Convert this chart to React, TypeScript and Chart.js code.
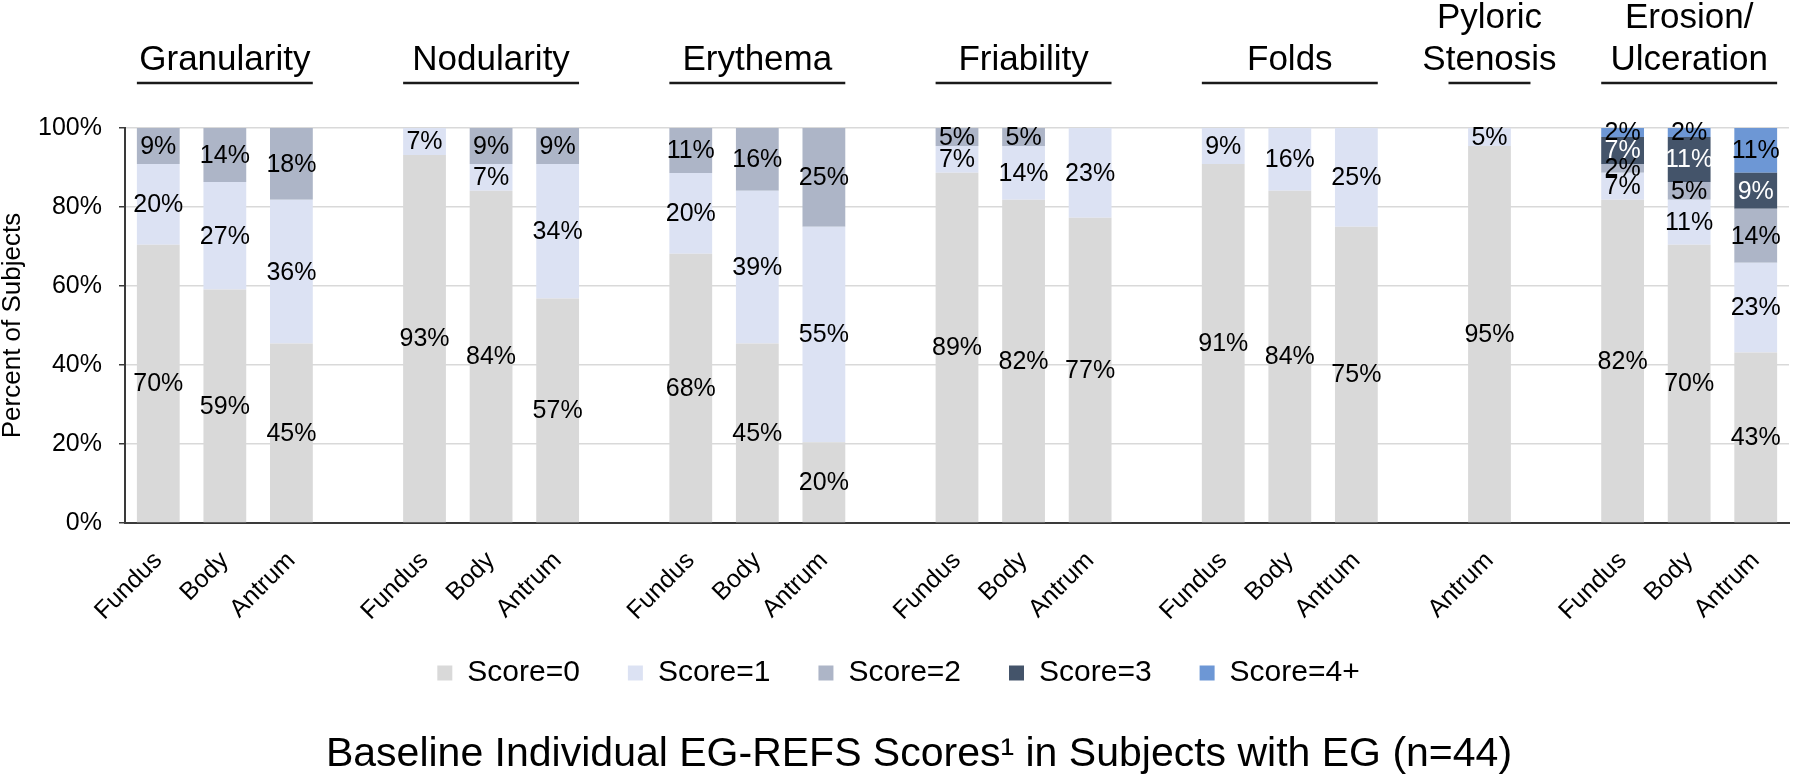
import React, { useEffect, useRef } from 'react';
import { Chart, registerables } from 'chart.js';

Chart.register(...registerables);

const FONT = '"Liberation Sans", Arial, Helvetica, sans-serif';

const categories = [
  'Fundus', 'Body', 'Antrum', '',
  'Fundus', 'Body', 'Antrum', '',
  'Fundus', 'Body', 'Antrum', '',
  'Fundus', 'Body', 'Antrum', '',
  'Fundus', 'Body', 'Antrum', '',
  'Antrum', '',
  'Fundus', 'Body', 'Antrum',
];

const groupHeaders = [
  ['Granularity'],
  ['Nodularity'],
  ['Erythema'],
  ['Friability'],
  ['Folds'],
  ['Pyloric', 'Stenosis'],
  ['Erosion/', 'Ulceration'],
];

const seriesNames = ['Score=0', 'Score=1', 'Score=2', 'Score=3', 'Score=4+'];
const seriesColors = ['#D9D9D9', '#DCE2F3', '#ADB5C7', '#44546A', '#6D97D5'];
const labelColors = ['#000000', '#000000', '#000000', '#FFFFFF', '#000000'];

const score0 = [70.45, 59.09, 45.45, null, 93.18, 84.09, 56.82, null, 68.18, 45.45, 20.45, null, 88.64, 81.82, 77.27, null, 90.91, 84.09, 75.0, null, 95.45, null, 81.82, 70.45, 43.18];
const score1 = [20.45, 27.27, 36.36, null, 6.82, 6.82, 34.09, null, 20.45, 38.64, 54.55, null, 6.82, 13.64, 22.73, null, 9.09, 15.91, 25.0, null, 4.55, null, 6.82, 11.36, 22.73];
const score2 = [9.09, 13.64, 18.18, null, null, 9.09, 9.09, null, 11.36, 15.91, 25.0, null, 4.55, 4.55, null, null, null, null, null, null, null, null, 2.27, 4.55, 13.64];
const score3 = [null, null, null, null, null, null, null, null, null, null, null, null, null, null, null, null, null, null, null, null, null, null, 6.82, 11.36, 9.09];
const score4 = [null, null, null, null, null, null, null, null, null, null, null, null, null, null, null, null, null, null, null, null, null, null, 2.27, 2.27, 11.36];

const seriesValues = [score0, score1, score2, score3, score4];

const yTickValues = [0, 20, 40, 60, 80, 100];
const yAxisTitle = 'Percent of Subjects';
const chartTitle = '\u2003Baseline Individual EG-REFS Scores\u00B9 in Subjects with EG (n=44)';

const dataLabelPlugin = {
  id: 'segLabels',
  afterDatasetsDraw(chart: any) {
    const ctx = chart.ctx;
    ctx.save();
    ctx.font = `25px ${FONT}`;
    ctx.textAlign = 'center';
    ctx.textBaseline = 'middle';
    chart.data.datasets.forEach((ds: any, i: number) => {
      const meta = chart.getDatasetMeta(i);
      meta.data.forEach((el: any, j: number) => {
        const v = ds.data[j];
        if (v === null || v === undefined) return;
        const p = el.getProps(['x', 'y', 'base'], true);
        ctx.fillStyle = labelColors[i];
        ctx.fillText(`${Math.round(v)}%`, p.x, (p.y + p.base) / 2 + 1);
      });
    });
    ctx.restore();
  },
};

const headerPlugin = {
  id: 'groupHeaders',
  afterDraw(chart: any) {
    const ctx = chart.ctx;
    const xs = chart.scales.x;
    const slot = xs.width / categories.length;
    const barHalf = (slot * 0.643) / 2;
    const runs: number[][] = [];
    let start = -1;
    categories.forEach((c, i) => {
      if (c !== '' && start < 0) start = i;
      if ((c === '' || i === categories.length - 1) && start >= 0) {
        const end = c === '' ? i - 1 : i;
        runs.push([start, end]);
        start = -1;
      }
    });
    ctx.save();
    ctx.font = `35px ${FONT}`;
    ctx.fillStyle = '#000';
    ctx.textAlign = 'center';
    ctx.textBaseline = 'alphabetic';
    runs.forEach((r, gi) => {
      const lines = groupHeaders[gi] || [];
      const x0 = xs.getPixelForValue(r[0]);
      const x1 = xs.getPixelForValue(r[1]);
      const cx = (x0 + x1) / 2;
      const baseY = 70;
      lines.forEach((t, li) => {
        const y = baseY - (lines.length - 1 - li) * 42;
        ctx.fillText(t, cx, y);
      });
      let half = (x1 - x0) / 2 + barHalf;
      if (half < 41) half = 41;
      ctx.strokeStyle = '#1a1a1a';
      ctx.lineWidth = 2.5;
      ctx.beginPath();
      ctx.moveTo(cx - half, 83);
      ctx.lineTo(cx + half, 83);
      ctx.stroke();
    });
    ctx.restore();
  },
};

export default function App() {
  const ref = useRef<HTMLCanvasElement>(null);

  useEffect(() => {
    if (!ref.current) return;
    Chart.defaults.font.family = FONT;
    const chart = new Chart(ref.current, {
      type: 'bar',
      data: {
        labels: categories,
        datasets: seriesNames.map((name, i) => ({
          label: name,
          data: seriesValues[i],
          backgroundColor: seriesColors[i],
          borderWidth: 0,
          barPercentage: 0.643,
          categoryPercentage: 1.0,
          stack: 's',
        })),
      },
      options: {
        responsive: false,
        animation: false,
        events: [],
        layout: { padding: { top: 128, right: 3, bottom: 0, left: 0 } },
        scales: {
          x: {
            stacked: true,
            grid: { display: false, drawTicks: false },
            border: { display: true, color: '#3a3a3a', width: 2 },
            ticks: {
              autoSkip: false,
              maxRotation: 45,
              minRotation: 45,
              padding: 23,
              color: '#000',
              font: { size: 25, family: FONT },
            },
            afterFit: (s: any) => {
              s.height = 102;
            },
          },
          y: {
            stacked: true,
            min: 0,
            max: 100,
            afterBuildTicks: (s: any) => {
              s.ticks = yTickValues.map((v) => ({ value: v }));
            },
            grid: {
              color: '#D9D9D9',
              lineWidth: 1.5,
              drawTicks: true,
              tickLength: 6,
              tickColor: '#3a3a3a',
              tickWidth: 1.5,
            },
            border: { display: true, color: '#3a3a3a', width: 2 },
            ticks: {
              padding: 17,
              color: '#000',
              font: { size: 25, family: FONT },
              callback: (v: any) => `${v}%`,
            },
            title: {
              display: true,
              text: yAxisTitle,
              color: '#000',
              font: { size: 26, family: FONT, lineHeight: 1 },
              padding: { top: 0, bottom: 0 },
            },
            afterFit: (s: any) => {
              s.width = 125;
            },
          },
        },
        plugins: {
          legend: {
            display: true,
            position: 'bottom',
            labels: {
              boxWidth: 15,
              boxHeight: 15,
              padding: 33,
              color: '#000',
              font: { size: 30, family: FONT },
              generateLabels: (c: any) => {
                const items = (Chart.defaults as any).plugins.legend.labels.generateLabels(c);
                items.forEach((it: any, i: number) => {
                  if (i < items.length - 1) it.text = it.text + '\u2002';
                });
                return items;
              },
            },
          },
          title: {
            display: true,
            position: 'bottom',
            text: chartTitle,
            color: '#000',
            font: { size: 41, family: FONT, weight: 'normal', lineHeight: 1 },
            padding: { top: 36, bottom: 0 },
          },
          tooltip: { enabled: false },
        },
      },
      plugins: [dataLabelPlugin, headerPlugin],
    } as any);
    return () => chart.destroy();
  }, []);

  return (
    <div style={{ position: 'fixed', left: 0, top: 0, width: 1800, height: 775, background: '#fff' }}>
      <canvas ref={ref} width={1800} height={775} style={{ display: 'block', width: 1800, height: 775 }} />
    </div>
  );
}
